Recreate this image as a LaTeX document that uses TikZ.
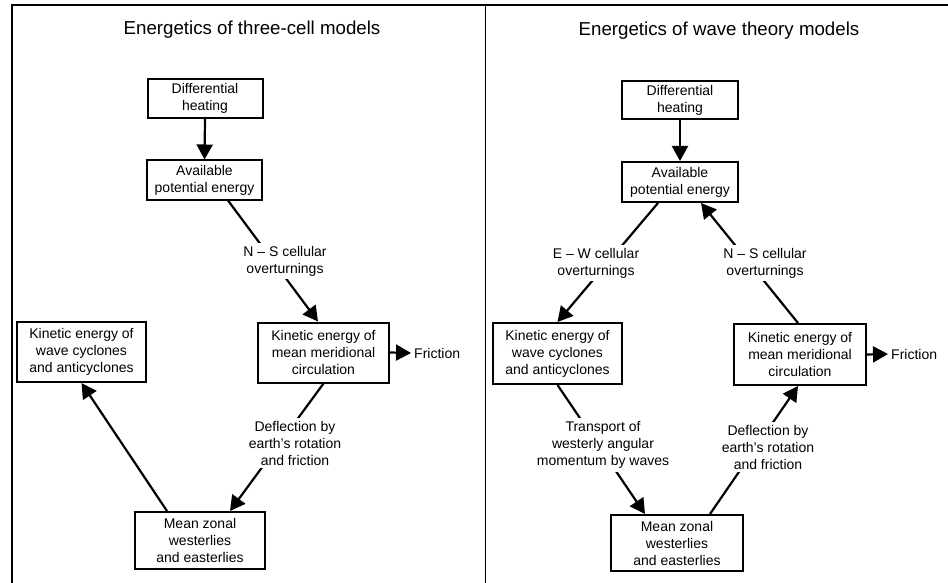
\documentclass[tikz,border=0pt]{standalone}
\usepackage{fontspec}
\setmainfont{Liberation Sans}
\usetikzlibrary{arrows.meta}
\tikzstyle{smallbox} = [rectangle, 
minimum width=115pt, 
minimum height=39pt, 
inner sep=2pt, 
align=center, 
draw=black, 
line width=2pt, 
fill=white, 
font=\fontsize{14}{17}\selectfont]
\tikzstyle{bigbox} = [smallbox, 
minimum width=130pt, 
minimum height=60pt]
\tikzstyle{note} = [align=center, 
fill=white, 
inner sep=3pt, 
font=\fontsize{14}{17}\selectfont]
\tikzstyle{heading} = [anchor=base, font=\fontsize{18.7}{22}\selectfont]
\tikzstyle{arrow} = [line width=2.2pt, -{Triangle[length=15pt, width=16pt]}]

\begin{document}
\begin{tikzpicture}[x=1pt, y=-1pt]
  \useasboundingbox (0,0) rectangle (948,583);
  % frame
  \draw [line width=1.5pt] (12,583) -- (12,5) -- (948,5);
  \draw [line width=1pt] (485,5) -- (485,583);

  % three-cell models
  \node (titleL) [heading] at (252,34.5) {Energetics of three-cell models};
  \node (dhL) [smallbox] at (205,98.5) {Differential\\heating};
  \node (apeL) [smallbox] at (204.5,180) {Available\\potential energy};
  \node (kemmL) [bigbox, minimum width=131pt] at (323.5,352.5) {Kinetic energy of\\mean meridional\\circulation};
  \node (kewL) [bigbox, minimum width=129pt] at (81.5,352) {Kinetic energy of\\wave cyclones\\and anticyclones};
  \node (mzL) [bigbox, minimum height=57pt] at (200,540.5) {Mean zonal\\westerlies\\and easterlies};
  \node (fricL) [note, anchor=west] at (411,353) {Friction};

  \draw [arrow] (dhL.south) -- (apeL.north);
  \draw [arrow] ([xshift=23.5pt]apeL.south) -- ([xshift=-5.5pt]kemmL.north);
  \draw [arrow] (kemmL.south) -- ([xshift=30pt]mzL.north);
  \draw [arrow] ([xshift=-33pt]mzL.north) -- (kewL.south);
  \draw [arrow] (kemmL.east) -- (fricL.west);

  \node (nsL) [note] at (285,261) {N -- S cellular\\overturnings};
  \node (deflL) [note] at (295,443) {Deflection by\\earth's rotation\\and friction};

  % wave theory models
  \node (titleR) [heading] at (719,35.5) {Energetics of wave theory models};
  \node (dhR) [smallbox, minimum width=116pt, minimum height=38pt] at (680,100) {Differential\\heating};
  \node (apeR) [smallbox, minimum width=116pt, minimum height=40pt] at (680,182) {Available\\potential energy};
  \node (kewR) [bigbox, minimum width=129pt, minimum height=61pt] at (557.5,353.5) {Kinetic energy of\\wave cyclones\\and anticyclones};
  \node (kemmR) [bigbox, minimum width=132pt, minimum height=61pt] at (800,354.5) {Kinetic energy of\\mean meridional\\circulation};
  \node (mzR) [bigbox, minimum width=132pt, minimum height=56pt] at (677,543) {Mean zonal\\westerlies\\and easterlies};
  \node (fricR) [note, anchor=west] at (888,354) {Friction};

  \draw [arrow] (dhR.south) -- (apeR.north);
  \draw [arrow] ([xshift=-22pt]apeR.south) -- (kewR.north);
  \draw [arrow] ([xshift=-2pt]kemmR.north) -- ([xshift=21pt]apeR.south);
  \draw [arrow] (kewR.south) -- ([xshift=-32pt]mzR.north);
  \draw [arrow] ([xshift=33pt]mzR.north) -- ([xshift=-2pt]kemmR.south);
  \draw [arrow] (kemmR.east) -- (fricR.west);

  \node (ewR) [note] at (596,263) {E -- W cellular\\overturnings};
  \node (nsR) [note] at (765,263) {N -- S cellular\\overturnings};
  \node (trR) [note] at (603,445) {Transport of\\westerly angular\\momentum by waves};
  \node (deflR) [note] at (768,447) {Deflection by\\earth's rotation\\and friction};
\end{tikzpicture}
\end{document}
